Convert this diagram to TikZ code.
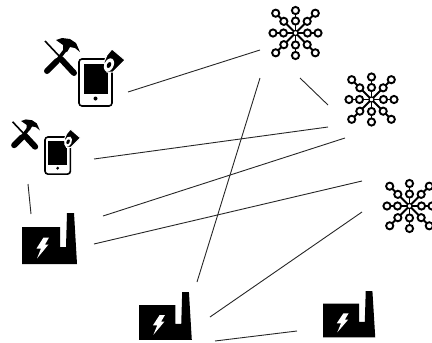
\documentclass[tikz,border=0pt]{standalone}
\tikzset{
  link/.style={draw=black!85,line width=0.9pt},
  factory/.pic={
    \fill[black] (0,14) -- (38,14) -- (38,34) -- (44,34) -- (45,0) -- (52,0) -- (55,51) -- (0,51) -- cycle;
    \fill[white] (21.5,24.5) -- (27,24.5) -- (23,31.5) -- (26.5,31.5) -- (15,45.5) -- (19,35.5) -- (14.5,35.5) -- cycle;
  },
  star/.pic={
    \foreach \a in {0,90,180,270}{
      \draw[line width=1.8pt] (0,0) -- (\a:20);
      \draw[line width=1.9pt,fill=white] (\a:12) circle (3.6);
      \draw[line width=1.9pt,fill=white] (\a:22.5) circle (3.6);
    }
    \foreach \a in {45,135,225,315}{
      \draw[line width=1.8pt] (0,0) -- (\a:25);
      \draw[line width=1.9pt,fill=white] (\a:16.5) circle (3.6);
      \draw[line width=1.9pt,fill=white] (\a:28) circle (3.6);
    }
    \fill[white] (0,0) circle (2.2);
    \draw[line width=1.2pt] (0,0) circle (2.6);
  },
  phone/.pic={
    \draw[black,line width=1.6pt,fill=white,rounded corners=3pt] (0,0) rectangle (33,47);
    \fill[black] (4.5,5) rectangle (28.5,35);
    \fill[black] (16.5,39.5) circle (2);
    \draw[white,line width=1pt,fill=black] (25,3) -- (28,-4) -- (33,-10) -- (46,1) -- (34,13) -- (28,13) -- cycle;
    \fill[white,rotate around={-25:(30,6)}] (30,6) ellipse (4.6 and 7);
    \fill[black,rotate around={-25:(30,6)}] (30,6) ellipse (2 and 3.2);
  },
  tools/.pic={
    \draw[black,line width=1.6pt] (2,1) -- (18,18);
    \draw[black,line width=6pt,line cap=round] (18,19) -- (31,33);
    \draw[black,line width=3.5pt] (13,22) -- (23,9);
    \draw[black,line width=6pt,line cap=round] (4,31) -- (14,21);
    \fill[black] (13,0) -- (19,-2) -- (27,-1) -- (33,3) -- (37,12) -- (32,8) -- (27,7) -- (24,12) -- (20,10) -- (20,5) -- cycle;
  }
}
\begin{document}
\begin{tikzpicture}[x=1pt,y=-1pt]
\useasboundingbox (0,0) rectangle (432,343);
\pic (st1) at (295.5,33) {star};
\pic (st2) at (371.5,99.5) {star};
\pic (st3) at (409.5,206) {star};
\pic (ph1) at (79,59) {phone};
\pic (to1) at (43,40) {tools};
\pic[xscale=.77,yscale=.79] (ph2) at (45,137) {phone};
\pic[scale=.78] (to2) at (11,121) {tools};
\pic (fa1) at (22,213) {factory};
\pic[xscale=.96,yscale=.94] (fa2) at (139,292) {factory};
\pic[xscale=.95,yscale=.91] (fa3) at (323,291) {factory};
\coordinate (a1) at (128,92); \coordinate (b1) at (260,50);
\coordinate (a2) at (300,78); \coordinate (b2) at (328,105);
\coordinate (a3) at (94,159); \coordinate (b3) at (328,127);
\coordinate (a4) at (103,216); \coordinate (b4) at (345,138);
\coordinate (a5) at (94,244); \coordinate (b5) at (362,181);
\coordinate (a6) at (197,282); \coordinate (b6) at (260,78);
\coordinate (a7) at (210,317); \coordinate (b7) at (362,212);
\coordinate (a8) at (215,341); \coordinate (b8) at (297,331);
\coordinate (a9) at (28,184); \coordinate (b9) at (31,214);
\foreach \n in {1,...,9}{\draw[link] (a\n) -- (b\n);}
\end{tikzpicture}
\end{document}
